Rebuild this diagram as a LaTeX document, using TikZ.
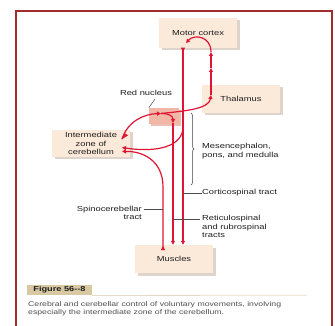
\documentclass[tikz,border=0pt]{standalone}
\usepackage{fontspec}
\setmainfont{Liberation Sans}
\newfontfamily\lab[FakeStretch=1.28]{Liberation Sans}
\usetikzlibrary{arrows.meta,decorations.markings,decorations.pathreplacing,shadows,calc}
\definecolor{tractred}{RGB}{222,22,52}
\definecolor{framered}{RGB}{160,45,45}
\definecolor{boxfill}{RGB}{251,233,217}
\definecolor{rnfill}{RGB}{241,182,166}
\definecolor{shadowc}{RGB}{222,212,204}
\definecolor{figfill}{RGB}{216,201,163}
\definecolor{rulec}{RGB}{228,220,198}
\definecolor{txt}{RGB}{30,30,30}
\definecolor{captxt}{RGB}{80,80,80}
\tikzset{
  >={Triangle[length=4pt,width=4pt]},
  tract/.style={draw=tractred, line width=1.2pt},
  tip/.style={-{Triangle[length=4pt,width=4pt]}},
  midtip/.style={postaction={decorate}, decoration={markings, mark=at position #1 with {\arrow{>}}}},
  box/.style={fill=boxfill, minimum width=78pt, minimum height=28pt, inner sep=0pt,
    font=\lab\fontsize{7.3}{8.5}\selectfont, text=txt, align=center,
    drop shadow={shadow xshift=2.5pt, shadow yshift=-2.5pt, fill=shadowc, opacity=1}},
  rnbox/.style={fill=rnfill, minimum width=30pt, minimum height=16pt, inner sep=0pt,
    drop shadow={shadow xshift=2pt, shadow yshift=-2pt, fill=rnfill!70!shadowc, opacity=1}},
  lbl/.style={font=\lab\fontsize{7.3}{8.5}\selectfont, text=txt, inner sep=0pt},
  leader/.style={draw=black!70, line width=0.5pt},
}
\begin{document}
\begin{tikzpicture}[x=1pt,y=-1pt]
\useasboundingbox (0,0) rectangle (335,326);
\fill[white] (0,0) rectangle (335,326);
% frame
\draw[framered, line width=2pt] (16,327) -- (16,11) -- (332,11) -- (332,327);

% boxes
\node[box, minimum height=30pt] (motor) at (198,33) {Motor cortex};
\node[box] (thal) at (241,99) {Thalamus};
\node[box, minimum height=27pt] (inter) at (91,143.5) {Intermediate\\zone of\\cerebellum};
\node[rnbox] (red) at (164,116) {};
\node[box] (musc) at (174,259) {Muscles};

% helper coordinates
\coordinate (xc) at (183,0);
\coordinate (xr) at (173,0);
\coordinate (xs) at (163,0);
\coordinate (xt) at (211,0);
\coordinate (rn) at (161,113.5);
\coordinate (th0) at (211,95);
\coordinate (th1) at (211,68);
\coordinate (th2) at (211,52);
\coordinate (mc) at (186,43);
\coordinate (ia) at (122,139);
\coordinate (ib) at (122,147.5);
\coordinate (ic) at (122,151.5);
\coordinate (cb) at (183,128);
\coordinate (rt) at (173,123);
\coordinate (sp) at (163,250);

% cerebellum -> red nucleus -> thalamus -> motor cortex
\draw[tract, tip] (ia) .. controls (128,121) and (144,114) .. (rn);
\draw[tract, tip] (rn) .. controls (185,111) and (209,109) .. (th0);
\draw[tract, tip] (th0) -- (th1);
\draw[tract, tip] (th1) -- (th2);
\draw[tract, tip] (th2) .. controls (211,36) and (194,34) .. (mc);
\draw[tract] (ia) -- +(3,-4.5);
\fill[tractred] (ia) -- ++(6,-3.5) -- ++(-2.5,-2) -- cycle;

% red nucleus -> rubrospinal
\draw[tract, tip] (rn) .. controls (169,113.5) and (173,116) .. (rt);
\draw[tract, tip] (rt) -- (xr |- musc.north);

% corticospinal
\draw[tract, tip, midtip=3.5pt] (xc |- motor.south) -- (xc |- musc.north);

% corticopontine collateral to cerebellum
\draw[tract, tip] (cb) .. controls (182,146) and (158,153) .. (ib);

% spinocerebellar
\draw[tract, tip, midtip=4pt] (sp) -- (163,187) .. controls (163,160) and (142,151) .. (ic);

% brace
\draw[black!75, line width=0.5pt, decorate, decoration={brace, amplitude=3pt}] (191,113) -- (191,185);

% labels and leaders
\node[lbl] (rnl) at (146,93) {Red nucleus};
\draw[leader] (155,99) -- (red.north west);
\node[lbl, anchor=west, align=left] (mes) at (202,151) {Mesencephalon,\\pons, and medulla};
\node[lbl, anchor=west] (cst) at (202,193) {Corticospinal tract};
\draw[leader] (xc |- cst.west) -- (cst.west);
\node[lbl, anchor=east, align=right] (sct) at (142,213) {Spinocerebellar\\tract};
\draw[leader] (144,209) -- (xs |- 0,209);
\node[lbl, anchor=north west, align=left] (rst) at (202,215.5) {Reticulospinal\\and rubrospinal\\tracts};
\draw[leader] (xr |- 0,219) -- (200,219);

% figure caption
\node[fill=figfill, minimum width=65pt, minimum height=10.5pt, inner sep=0pt,
  font=\lab\bfseries\fontsize{7.2}{8}\selectfont, text=txt] (fig) at (59.5,290) {Figure 56--8};
\draw[rulec, line width=0.8pt] (fig.south east) -- (307,295.25);
\node[anchor=north west, align=left, inner sep=0pt, text=captxt,
  font=\lab\fontsize{6.8}{8}\selectfont] (cap) at (28,301) {Cerebral and cerebellar control of voluntary movements, involving\\especially the intermediate zone of the cerebellum.};
\end{tikzpicture}
\end{document}
